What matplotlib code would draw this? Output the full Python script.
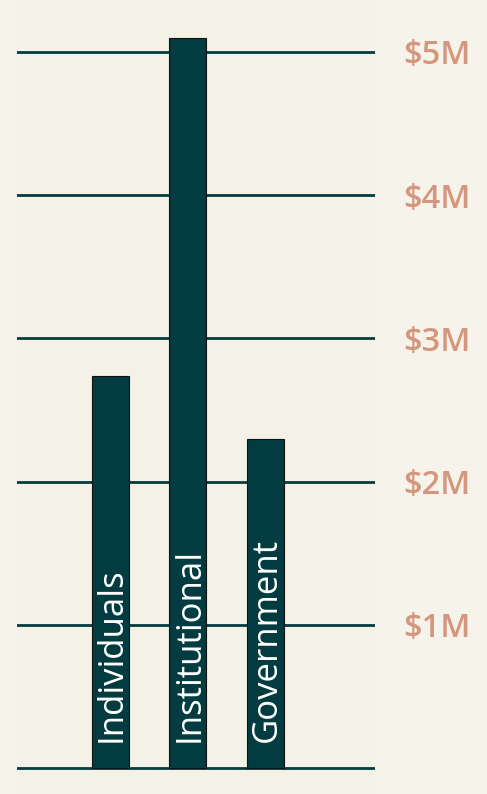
import matplotlib.pyplot as plt
from matplotlib.ticker import FuncFormatter

# funding by source, in millions of dollars
categories = ['Individuals', 'Institutional', 'Government']
values = [2.74, 5.10, 2.30]
tick_values = [0, 1, 2, 3, 4, 5]

bg_fig = '#F6F3EA'
bg_ax = '#F4F1E6'
teal = '#023C41'
salmon = '#D4967D'

fig = plt.figure(figsize=(4.87, 7.94), dpi=100, facecolor=bg_fig)
ax = fig.add_axes([17 / 487, 0, (375 - 17) / 487, 1], facecolor=bg_ax)

x = [0, 1, 2]
ax.bar(x, values, width=0.48, color=teal, edgecolor='#111111', linewidth=0.8, zorder=3)

ax.set_xlim(-1.2, 3.41)
ax.set_ylim(-26 / 143.2, 768 / 143.2)

ax.set_yticks(tick_values)
ax.yaxis.grid(True, color=teal, linewidth=2, zorder=1)
ax.yaxis.tick_right()
ax.tick_params(axis='y', length=0, pad=20, labelsize=23.5, labelcolor=salmon)
ax.yaxis.set_major_formatter(FuncFormatter(lambda v, p: '' if v == 0 else '$%dM' % v))
for lab in ax.get_yticklabels():
    lab.set_fontfamily(['Open Sans', 'DejaVu Sans'])
    lab.set_fontweight('semibold')
ax.set_xticks([])
for s in ax.spines.values():
    s.set_visible(False)

for xi, name in zip(x, categories):
    ax.text(xi + 0.02, 0.18, name, rotation=90, ha='center', va='bottom', color='white',
            fontsize=25, family=['Open Sans', 'DejaVu Sans'], zorder=4)

fig.savefig('out.png', dpi=100, facecolor=bg_fig)
